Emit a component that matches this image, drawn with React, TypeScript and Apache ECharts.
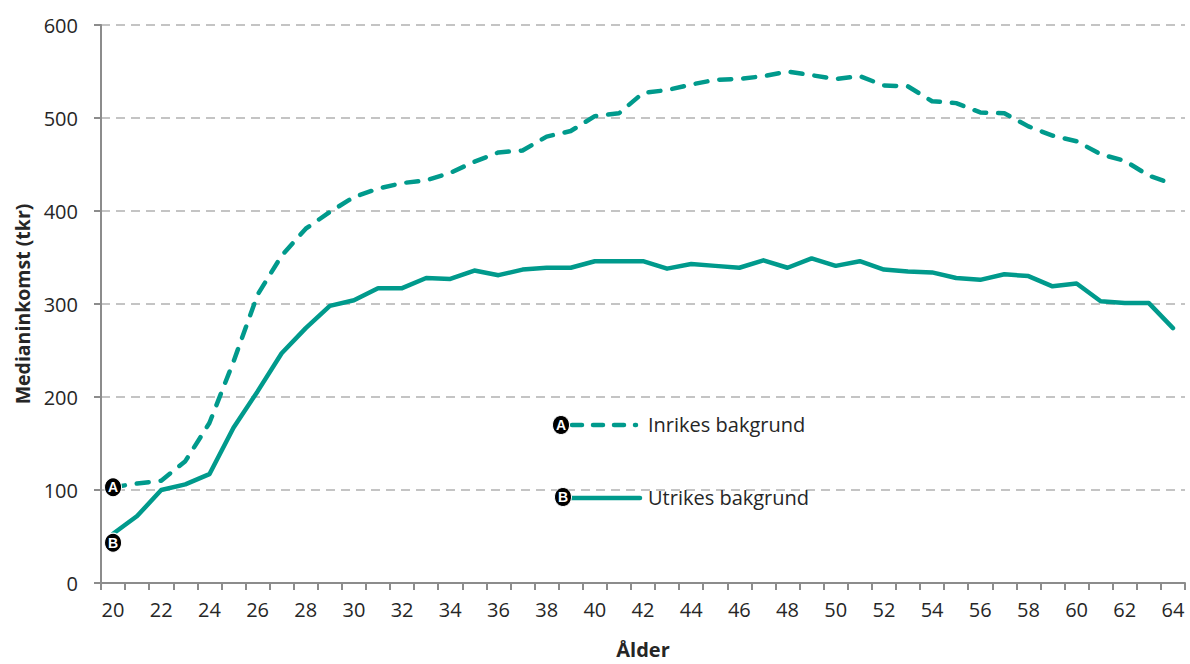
import React, { useEffect, useRef } from "react";
import * as echarts from "echarts";

const ages: string[] = [];
for (let a = 20; a <= 64; a++) ages.push(String(a));

const inrikes = [103, 107, 110, 131, 172, 238, 310, 352, 381, 399, 415, 424, 430, 433, 441, 453, 463, 465, 480, 486, 502, 505, 527, 530, 536, 541, 542, 545, 550, 546, 542, 545, 535, 534, 518, 516, 506, 505, 491, 481, 475, 461, 454, 438, 429];
const utrikes = [53, 72, 100, 106, 117, 167, 206, 247, 274, 298, 304, 317, 317, 328, 327, 336, 331, 337, 339, 339, 346, 346, 346, 338, 343, 341, 339, 347, 339, 349, 341, 346, 337, 335, 334, 328, 326, 332, 330, 319, 322, 303, 301, 301, 274];

const seriesNames = ["Inrikes bakgrund", "Utrikes bakgrund"];
const yTitle = "Medianinkomst (tkr)";
const xTitle = "Ålder";

const TEAL = "#009a8c";
const FONT = "'Open Sans'";
const MFONT = "'Liberation Sans'";
const TXT = "#262626";

function marker(letter: string, value: number, offsetY: number) {
  return {
    coord: ["20", value],
    symbol: "circle",
    symbolSize: [17, 19],
    symbolOffset: [0, offsetY],
    itemStyle: { color: "#000", borderColor: "#fff", borderWidth: 1 },
    label: { show: true, formatter: letter, color: "#fff", fontWeight: "bold", fontSize: 14, fontFamily: MFONT, position: "inside", offset: [0, 0] },
  };
}

export default function App() {
  const ref = useRef<HTMLDivElement>(null);
  useEffect(() => {
    const chart = echarts.init(ref.current!, undefined, { renderer: "svg" });
    chart.setOption({
      animation: false,
      backgroundColor: "#fff",
      grid: { left: 101, right: 5, top: 25, bottom: 78, containLabel: false },
      xAxis: {
        type: "category",
        data: ages,
        boundaryGap: true,
        name: xTitle,
        nameLocation: "middle",
        nameGap: 56,
        nameTextStyle: { fontFamily: FONT, fontWeight: "bold", fontSize: 20, color: TXT },
        axisLine: { lineStyle: { color: "#8c8c8c", width: 2 } },
        axisTick: { show: true, interval: 0, length: 7, lineStyle: { color: "#8c8c8c", width: 2 } },
        axisLabel: { interval: 1, margin: 16, fontFamily: FONT, fontSize: 20, color: TXT },
        splitLine: { show: false },
      },
      yAxis: {
        type: "value",
        min: 0,
        max: 600,
        interval: 100,
        name: yTitle,
        nameLocation: "middle",
        nameGap: 68,
        nameTextStyle: { fontFamily: FONT, fontWeight: "bold", fontSize: 19.5, color: TXT },
        axisLine: { show: true, lineStyle: { color: "#8c8c8c", width: 2 } },
        axisTick: { show: true, length: 7, lineStyle: { color: "#8c8c8c", width: 2 } },
        axisLabel: { margin: 23, fontFamily: FONT, fontSize: 20, color: TXT },
        splitLine: { show: true, lineStyle: { color: "#c4c4c4", width: 2, type: [9, 6] } },
      },
      series: [
        {
          name: seriesNames[0],
          type: "line",
          data: inrikes,
          symbol: "none",
          lineStyle: { color: TEAL, width: 4.5, type: [12, 12], cap: "round", join: "round" },
          markPoint: { data: [marker("A", inrikes[0], 0)] },
          z: 3,
        },
        {
          name: seriesNames[1],
          type: "line",
          data: utrikes,
          symbol: "none",
          lineStyle: { color: TEAL, width: 4.5, cap: "round", join: "round" },
          markPoint: { data: [marker("B", utrikes[0], 9)] },
          z: 3,
        },
      ],
      graphic: [
        { type: "line", shape: { x1: 572, y1: 425, x2: 636, y2: 425 }, style: { stroke: TEAL, lineWidth: 4.5, lineDash: [10, 11], lineCap: "round" }, z: 10 },
        { type: "ellipse", shape: { cx: 561, cy: 425, rx: 8.5, ry: 9.5 }, style: { fill: "#000", stroke: "#fff", lineWidth: 1 }, z: 11 },
        { type: "text", x: 561, y: 425, style: { text: "A", fill: "#fff", font: `bold 14px ${MFONT}`, align: "center", verticalAlign: "middle" }, z: 12 },
        { type: "text", x: 648, y: 424, style: { text: seriesNames[0], fill: TXT, font: `20px ${FONT}`, align: "left", verticalAlign: "middle" }, z: 12 },
        { type: "line", shape: { x1: 568, y1: 498, x2: 640, y2: 498 }, style: { stroke: TEAL, lineWidth: 4.5, lineCap: "round" }, z: 10 },
        { type: "ellipse", shape: { cx: 563, cy: 497, rx: 8.5, ry: 9.5 }, style: { fill: "#000", stroke: "#fff", lineWidth: 1 }, z: 11 },
        { type: "text", x: 563, y: 497, style: { text: "B", fill: "#fff", font: `bold 14px ${MFONT}`, align: "center", verticalAlign: "middle" }, z: 12 },
        { type: "text", x: 648, y: 497, style: { text: seriesNames[1], fill: TXT, font: `20px ${FONT}`, align: "left", verticalAlign: "middle" }, z: 12 },
      ],
    });
    return () => chart.dispose();
  }, []);
  return <div ref={ref} style={{ width: 1190, height: 664, position: "absolute", left: 0, top: 0 }} />;
}
